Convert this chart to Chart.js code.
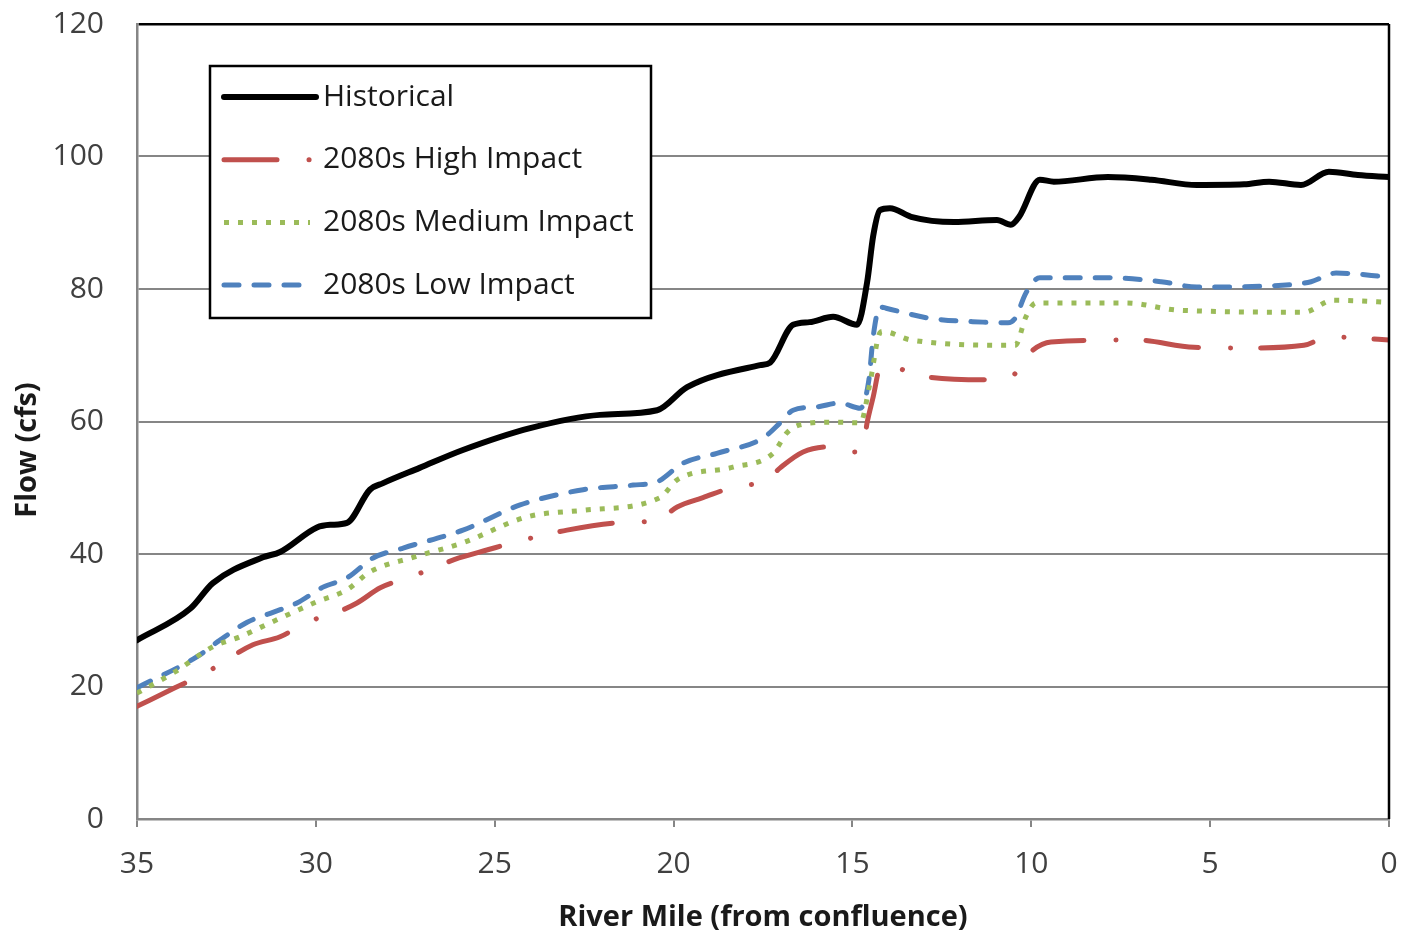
<!DOCTYPE html>
<html>
<head>
<meta charset="utf-8">
<script src="https://cdn.jsdelivr.net/npm/chart.js@4/dist/chart.umd.min.js"></script>
<style>
  html, body { margin: 0; padding: 0; background: #fff; }
  #wrap { width: 1401px; height: 932px; position: relative; }
</style>
</head>
<body>
<div id="wrap"><canvas id="flowchart"></canvas></div>
<script>
'use strict';
// river mile (x) and flow in cfs (y)
const histMiles = [35, 33.5, 32.88, 31.48, 31.0, 29.97, 29.6, 29.13, 28.49, 28.12, 27.1, 25.89, 24.01, 22.06, 20.46, 19.62, 17.58, 17.3, 16.66, 16.2, 15.54, 14.87, 14.59, 14.42, 14.23, 13.95, 13.36, 12.16, 10.96, 10.57, 10.34, 9.76, 9.37, 7.86, 6.65, 5.37, 4.05, 3.35, 2.46, 1.68, 0.87, 0];
const histFlow  = [27.0, 31.8, 35.6, 39.5, 40.3, 44.0, 44.4, 44.7, 49.7, 50.7, 53.0, 55.7, 59.0, 61.0, 61.7, 65.2, 68.5, 68.9, 74.6, 75.0, 75.8, 74.6, 81.0, 88.0, 91.9, 92.2, 90.9, 90.1, 90.4, 89.7, 90.9, 96.5, 96.2, 96.9, 96.5, 95.7, 95.8, 96.2, 95.7, 97.7, 97.2, 96.9];

const highMiles = [35, 33.94, 33.04, 31.76, 31.0, 30.25, 29.41, 28.85, 28.2, 27.37, 26.0, 25.22, 24.21, 22.98, 21.3, 20.46, 19.9, 19.18, 18.34, 17.39, 17.02, 16.38, 15.54, 14.98, 14.7, 14.59, 14.42, 14.23, 14.15, 12.86, 11.15, 10.57, 10.06, 9.45, 7.07, 5.45, 3.97, 2.38, 1.68, 0.87, 0];
const highFlow  = [17.0, 19.8, 22.2, 26.3, 27.5, 29.7, 31.2, 32.6, 34.9, 36.5, 39.4, 40.6, 42.1, 43.6, 44.8, 45.1, 47.1, 48.5, 50.1, 51.2, 53.0, 55.4, 56.2, 55.4, 56.2, 59.8, 63.7, 68.2, 68.4, 66.7, 66.3, 66.7, 70.3, 72.0, 72.3, 71.2, 71.1, 71.5, 72.8, 72.6, 72.3];

const medMiles = [35, 33.94, 32.88, 32.12, 31.28, 29.97, 29.13, 28.49, 27.28, 25.89, 24.1, 22.53, 20.38, 19.9, 18.34, 17.22, 16.83, 16.47, 15.54, 14.78, 14.51, 14.23, 14.15, 13.36, 10.45, 10.15, 9.87, 7.35, 5.87, 2.38, 1.57, 0];
const medFlow  = [19.0, 22.2, 26.0, 27.5, 29.6, 32.8, 34.6, 37.3, 39.5, 41.7, 45.6, 46.6, 48.5, 51.2, 53.1, 55.2, 58.3, 59.5, 59.9, 59.8, 65.8, 73.4, 73.6, 72.3, 71.5, 75.8, 77.9, 77.9, 76.8, 76.5, 78.3, 78.0];

const lowMiles = [35, 33.32, 32.68, 31.92, 31.2, 30.53, 29.8, 29.13, 28.4, 27.56, 25.89, 24.29, 22.53, 21.13, 20.46, 19.74, 18.79, 17.5, 17.02, 16.66, 15.99, 15.35, 14.78, 14.54, 14.42, 14.23, 14.06, 12.86, 11.35, 10.65, 10.45, 10.15, 9.76, 7.86, 6.37, 5.37, 2.88, 2.18, 1.48, 0];
const lowFlow  = [19.8, 24.5, 27.0, 29.7, 31.2, 32.6, 35.0, 36.4, 39.4, 40.9, 43.6, 47.4, 49.7, 50.4, 50.9, 53.7, 55.2, 57.5, 59.8, 61.7, 62.2, 62.8, 62.0, 66.3, 72.8, 77.3, 77.1, 75.6, 75.0, 74.9, 75.6, 79.4, 81.7, 81.7, 81.1, 80.3, 80.6, 81.1, 82.4, 81.8];

const seriesNames = ['Historical', '2080s High Impact', '2080s Medium Impact', '2080s Low Impact'];
const yTicks = [0, 20, 40, 60, 80, 100, 120];
const xTicks = [35, 30, 25, 20, 15, 10, 5, 0];

const FONT = '"Open Sans", "DejaVu Sans", sans-serif';

const pts = (xs, ys) => xs.map((x, i) => ({x: x, y: ys[i]}));

// legend box + y title + black right border, drawn over the chart
const extras = {
    id: 'extras',
    afterDatasetsDraw(chart) {
        const ctx = chart.ctx;
        const a = chart.chartArea;
        ctx.save();
        // right frame line
        ctx.strokeStyle = '#000';
        ctx.lineWidth = 2.5;
        ctx.beginPath();
        ctx.moveTo(a.right, a.top);
        ctx.lineTo(a.right, a.bottom);
        ctx.stroke();

        // legend
        const bx = a.left + 73, by = a.top + 42, bw = 441, bh = 252;
        ctx.fillStyle = '#fff';
        ctx.fillRect(bx, by, bw, bh);
        ctx.lineWidth = 2.5;
        ctx.strokeStyle = '#000';
        ctx.strokeRect(bx, by, bw, bh);
        chart.data.datasets.forEach((ds, i) => {
            const y = by + 31 + i * 62.7;
            ctx.save();
            ctx.strokeStyle = ds.borderColor;
            ctx.lineWidth = ds.borderWidth;
            ctx.lineCap = ds.borderCapStyle || 'butt';
            ctx.setLineDash(ds.borderDash || []);
            ctx.beginPath();
            ctx.moveTo(bx + 14, y);
            ctx.lineTo(bx + (i === 0 ? 106 : 100), y);
            ctx.stroke();
            ctx.restore();
            ctx.fillStyle = '#1a1a1a';
            ctx.font = '30px ' + FONT;
            ctx.textAlign = 'left';
            ctx.textBaseline = 'middle';
            ctx.fillText(ds.label, bx + 113, y);
        });

        // y axis title
        ctx.translate(28, 450);
        ctx.rotate(-Math.PI / 2);
        ctx.fillStyle = '#1a1a1a';
        ctx.font = 'bold 29px ' + FONT;
        ctx.textAlign = 'center';
        ctx.textBaseline = 'middle';
        ctx.fillText('Flow (cfs)', 0, 0);
        ctx.restore();
    }
};

new Chart(document.querySelector('#flowchart'), {
    type: 'line',
    data: {
        datasets: [{
            label: seriesNames[0],
            data: pts(histMiles, histFlow),
            borderColor: '#000000',
            borderWidth: 6,
            borderCapStyle: 'round',
            borderJoinStyle: 'round'
        },
        {
            label: seriesNames[1],
            data: pts(highMiles, highFlow),
            borderColor: '#c0504d',
            borderWidth: 5,
            borderCapStyle: 'round',
            borderJoinStyle: 'round',
            borderDash: [53, 32, 0.1, 30]
        },
        {
            label: seriesNames[2],
            data: pts(medMiles, medFlow),
            borderColor: '#9bbb59',
            borderWidth: 5,
            borderCapStyle: 'butt',
            borderDash: [5, 9]
        },
        {
            label: seriesNames[3],
            data: pts(lowMiles, lowFlow),
            borderColor: '#4f81bd',
            borderWidth: 5,
            borderCapStyle: 'round',
            borderJoinStyle: 'round',
            borderDash: [15, 15]
        }
    ]},
    options: {
        responsive: true,
        maintainAspectRatio: false,
        animation: false,
        cubicInterpolationMode: 'monotone',
        elements: { point: { radius: 0 } },
        layout: { padding: { top: 24, right: 12, left: 0, bottom: 0 } },
        plugins: {
            legend: { display: false },
            tooltip: { enabled: false }
        },
        scales: {
            x: {
                type: 'linear',
                reverse: true,
                min: 0,
                max: 35,
                afterBuildTicks: s => { s.ticks = xTicks.map(v => ({value: v})); },
                afterFit: s => {
                    s.height = 113;
                    s.paddingLeft = 0;
                    s.paddingRight = 0;
                },
                grid: {
                    drawOnChartArea: false,
                    drawTicks: true,
                    tickLength: 8,
                    color: '#868686',
                    lineWidth: 2
                },
                border: { color: '#868686', width: 2.5 },
                ticks: {
                    padding: 19,
                    color: '#404040',
                    font: { family: FONT, size: 30 },
                    maxRotation: 0
                },
                title: {
                    display: true,
                    text: 'River Mile (from confluence)',
                    color: '#1a1a1a',
                    font: { family: FONT, size: 29, weight: 'bold' },
                    padding: { top: 0, bottom: -3 }
                }
            },
            y: {
                min: 0,
                max: 120,
                afterBuildTicks: s => { s.ticks = yTicks.map(v => ({value: v})); },
                afterFit: s => {
                    s.width = 137;
                    s.paddingTop = 0;
                    s.paddingBottom = 0;
                },
                grid: {
                    drawTicks: false,
                    color: c => c.tick && c.tick.value === 120 ? '#000000' : '#868686',
                    lineWidth: c => c.tick && c.tick.value === 120 ? 2.5 : 2
                },
                border: { color: '#868686', width: 2.5 },
                ticks: {
                    padding: 33,
                    color: '#404040',
                    font: { family: FONT, size: 30 }
                }
            }
        }
    },
    plugins: [extras]
});
</script>
</body>
</html>
